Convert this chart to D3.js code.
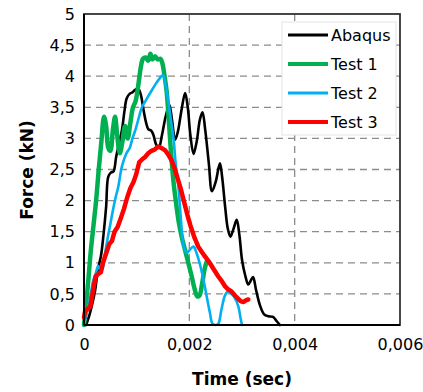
<!DOCTYPE html>
<html>
<head>
<meta charset="utf-8">
<script src="https://cdn.jsdelivr.net/npm/d3@7"></script>
<style>
body { margin: 0; background: #fff; }
text { font-family: "DejaVu Sans", Verdana, sans-serif; }
</style>
</head>
<body>
<svg width="423" height="392"></svg>
<script>
"use strict";

// Data (time in seconds, force in kN).

var abaqusT = [0.00004,0.0001,0.00016,0.00021,0.00027,0.00032,0.00037,0.00042,0.00046,0.00051,0.00056,0.00061,0.00066,0.00072,0.00077,0.00081,0.00087,0.00092,0.00097,0.00103,0.00108,0.00113,0.00118,0.00122,0.00128,0.00132,0.00137,0.00142,0.00148,0.00155,0.00162,0.00167,0.00173,0.00178,0.00185,0.00192,0.00197,0.00202,0.00208,0.00214,0.0022,0.00225,0.0023,0.00237,0.00243,0.0025,0.00258,0.00262,0.00268,0.00273,0.00278,0.00284,0.0029,0.00295,0.003,0.00306,0.00312,0.00317,0.00321,0.00327,0.00334,0.00342,0.0035,0.00359,0.00366,0.00372];
var abaqusF = [0,0.15,0.35,0.55,0.92,1.1,1.45,1.9,2.38,2.45,2.47,2.7,2.9,3.13,3.45,3.64,3.72,3.74,3.78,3.8,3.7,3.46,3.25,3.15,3.12,3.05,2.9,2.85,3.05,3.35,3.54,3.3,2.98,3.1,3.45,3.73,3.5,3.05,2.75,2.95,3.3,3.42,3.15,2.6,2.15,2.3,2.6,2.4,1.9,1.55,1.42,1.55,1.69,1.45,1.05,0.8,0.65,0.72,0.77,0.55,0.32,0.17,0.14,0.13,0.06,0];

var test1T = [0,0.00003,0.00008,0.00013,0.00018,0.00023,0.00028,0.00033,0.00038,0.00042,0.00046,0.0005,0.00055,0.00059,0.00063,0.00068,0.00073,0.00078,0.00083,0.00088,0.00093,0.00098,0.00103,0.00108,0.00112,0.00117,0.00122,0.00126,0.0013,0.00135,0.0014,0.00145,0.00149,0.00153,0.00157,0.00161,0.00165,0.0017,0.00175,0.0018,0.00186,0.00192,0.00198,0.00204,0.0021,0.00215,0.00219,0.00224,0.00229,0.00233];
var test1F = [0,0.25,0.7,1.2,1.6,2.0,2.5,2.95,3.35,3.2,2.85,2.8,3.15,3.35,3.05,2.76,2.95,3.2,3.0,3.25,3.5,3.6,3.85,4.15,4.28,4.3,4.25,4.36,4.27,4.32,4.27,4.28,4.2,4.0,3.75,3.3,2.8,2.3,1.95,1.65,1.4,1.2,1.0,0.8,0.58,0.46,0.47,0.65,0.9,1.02];

var test2T = [0,0.00006,0.00012,0.00017,0.00022,0.00027,0.00031,0.00035,0.0004,0.00045,0.0005,0.00055,0.0006,0.00065,0.00072,0.0008,0.00087,0.00092,0.00097,0.00103,0.0011,0.00118,0.00127,0.00135,0.00144,0.0015,0.00155,0.0016,0.00165,0.0017,0.00174,0.00179,0.00184,0.00189,0.00195,0.00202,0.00208,0.00214,0.0022,0.00227,0.00233,0.00239,0.00244,0.0025,0.00255,0.00261,0.00268,0.00274,0.0028,0.00286,0.00293,0.00297,0.003];
var test2F = [0,0.22,0.45,0.7,0.82,0.95,0.88,0.9,1.15,1.4,1.62,1.85,2.05,2.22,2.55,2.75,2.85,3.0,3.12,3.3,3.5,3.62,3.75,3.86,3.97,4.02,3.85,3.6,3.3,3.0,2.6,2.25,1.7,1.27,1.16,1.22,1.26,1.15,0.98,0.72,0.46,0.2,0.02,0,0.02,0.25,0.48,0.54,0.5,0.44,0.3,0.12,0];

var test3T = [0,0.00002,0.00006,0.00012,0.00017,0.00022,0.00027,0.00032,0.00036,0.00042,0.00048,0.00053,0.00058,0.00064,0.0007,0.00076,0.00082,0.00088,0.00094,0.00099,0.00105,0.0011,0.00116,0.00122,0.00128,0.00134,0.00141,0.00148,0.00154,0.0016,0.00166,0.00172,0.00178,0.00184,0.0019,0.00196,0.00202,0.0021,0.00217,0.00224,0.0023,0.00237,0.00243,0.00249,0.00255,0.00262,0.00268,0.00274,0.0028,0.00287,0.00293,0.00298,0.00303,0.00308,0.00312];
var test3F = [0.12,0.22,0.25,0.3,0.55,0.78,0.82,0.85,1.0,1.15,1.3,1.35,1.5,1.58,1.72,1.87,2.05,2.2,2.3,2.42,2.62,2.66,2.7,2.76,2.8,2.82,2.87,2.84,2.81,2.74,2.65,2.52,2.35,2.18,1.98,1.78,1.6,1.4,1.26,1.17,1.1,1.02,0.94,0.86,0.78,0.7,0.62,0.57,0.54,0.47,0.42,0.38,0.37,0.4,0.41];

var seriesNames = ["Abaqus", "Test 1", "Test 2", "Test 3"];
var seriesColors = ["#000000", "#00b050", "#00b0f0", "#ff0000"];
var seriesWidths = [2.6, 4.5, 2.6, 4.5];

var xTicks = [0, 0.002, 0.004, 0.006];
var yTicks = [0, 0.5, 1, 1.5, 2, 2.5, 3, 3.5, 4, 4.5, 5];

// Layout.

var svg = d3.select("svg");
var Left = 84, Right = 400, Top = 14, Bottom = 325;

var x = d3.scaleLinear().domain([0, 0.006]).range([Left, Right]);
var y = d3.scaleLinear().domain([0, 5]).range([Bottom, Top]);

var commaFmt = function(d){ return String(d).replace(".", ","); };

// Dashed grid.

var GridColor = "#8c8c8c";
svg.append("g").selectAll("line")
    .data(yTicks.filter(function(d){ return d > 0 && d < 5; }))
    .enter().append("line")
        .attr("x1", Left).attr("x2", Right)
        .attr("y1", function(d){ return y(d); })
        .attr("y2", function(d){ return y(d); })
        .attr("stroke", GridColor)
        .attr("stroke-width", 1.3)
        .attr("stroke-dasharray", "7,5");

svg.append("g").selectAll("line")
    .data(xTicks.filter(function(d){ return d > 0 && d < 0.006; }))
    .enter().append("line")
        .attr("y1", Top).attr("y2", Bottom)
        .attr("x1", function(d){ return x(d); })
        .attr("x2", function(d){ return x(d); })
        .attr("stroke", GridColor)
        .attr("stroke-width", 1.3)
        .attr("stroke-dasharray", "7,5");

// Series.

var seriesData = [
    d3.zip(abaqusT, abaqusF),
    d3.zip(test1T, test1F),
    d3.zip(test2T, test2F),
    d3.zip(test3T, test3F)
];

var smoothLine = d3.line()
    .x(function(d){ return x(d[0]); })
    .y(function(d){ return y(d[1]); })
    .curve(d3.curveCatmullRom.alpha(0.5));

var plainLine = d3.line()
    .x(function(d){ return x(d[0]); })
    .y(function(d){ return y(d[1]); });

seriesData.forEach(function(pts, i){
    svg.append("path")
        .attr("d", (i === 3 ? plainLine : smoothLine)(pts))
        .attr("fill", "none")
        .attr("stroke", seriesColors[i])
        .attr("stroke-width", seriesWidths[i])
        .attr("stroke-linejoin", "round")
        .attr("stroke-linecap", "round");
});

// Plot frame.

svg.append("rect")
    .attr("x", Left).attr("y", Top)
    .attr("width", Right - Left).attr("height", Bottom - Top)
    .attr("fill", "none")
    .attr("stroke", "#333")
    .attr("stroke-width", 1.8);
svg.append("line")
    .attr("x1", Left).attr("x2", Left).attr("y1", Top).attr("y2", Bottom)
    .attr("stroke", "#000").attr("stroke-width", 2);
svg.append("line")
    .attr("x1", Left).attr("x2", Right).attr("y1", Bottom).attr("y2", Bottom)
    .attr("stroke", "#000").attr("stroke-width", 2);

// Axes (labels only).

var xAxis = d3.axisBottom(x).tickValues(xTicks).tickSize(0).tickPadding(14).tickFormat(commaFmt);
var gx = svg.append("g").attr("transform", "translate(0," + Bottom + ")").call(xAxis);
gx.select(".domain").remove();
gx.selectAll("text").attr("font-size", 16).attr("fill", "#000")
    .style("font-family", "DejaVu Sans, Verdana, sans-serif");

var yAxis = d3.axisLeft(y).tickValues(yTicks).tickSize(0).tickPadding(9).tickFormat(commaFmt);
var gy = svg.append("g").attr("transform", "translate(" + Left + ",0)").call(yAxis);
gy.select(".domain").remove();
gy.selectAll("text").attr("font-size", 16).attr("fill", "#000")
    .style("font-family", "DejaVu Sans, Verdana, sans-serif");

// Axis titles.

svg.append("text")
    .attr("x", 242).attr("y", 385)
    .attr("text-anchor", "middle")
    .attr("font-size", 17).attr("font-weight", "bold")
    .text("Time (sec)");

svg.append("text")
    .attr("transform", "translate(33,170) rotate(-90)")
    .attr("text-anchor", "middle")
    .attr("font-size", 17).attr("font-weight", "bold")
    .text("Force (kN)");

// Legend.

var legend = svg.append("g");
legend.append("rect")
    .attr("x", 282).attr("y", 22).attr("width", 114).attr("height", 113)
    .attr("fill", "#fff")
    .attr("stroke", "#e4e4e4");

var entries = legend.selectAll("g.entry")
    .data(seriesNames)
    .enter().append("g")
        .attr("transform", function(d, i){ return "translate(0," + (35 + i*29) + ")"; });
entries.append("line")
    .attr("x1", 288).attr("x2", 328).attr("y1", 0).attr("y2", 0)
    .attr("stroke", function(d, i){ return seriesColors[i]; })
    .attr("stroke-width", function(d, i){ return i % 2 ? 3 : 4; })
    .attr("stroke-width", function(d, i){ return [3, 4, 3, 4][i]; });
entries.append("text")
    .attr("x", 331).attr("y", 6)
    .attr("font-size", 16)
    .text(function(d){ return d; });
</script>
</body>
</html>
